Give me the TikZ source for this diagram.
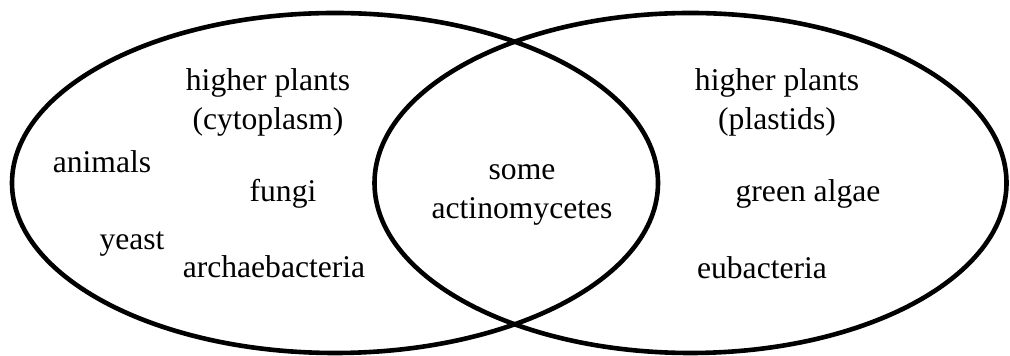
\documentclass[tikz,border=0pt]{standalone}
\usepackage{fontspec}
\setmainfont{Liberation Serif}
\usetikzlibrary{positioning}

\begin{document}
\begin{tikzpicture}[x=0.5pt,y=-0.5pt,
    ring/.style={line width=2.3pt},
    txt/.style={anchor=base,inner sep=0pt,align=center,
      font=\fontsize{15.8}{19.5}\selectfont}]
    \useasboundingbox (0,0) rectangle (1010,356);
    % the two sets
    \draw[ring] (335,183) ellipse [x radius=161.5pt, y radius=85pt];
    \draw[ring] (690.5,183) ellipse [x radius=158pt, y radius=85pt];
    % left set
    \node[txt] (hpc)  at (268,130) {higher plants\\(cytoplasm)};
    \node[txt] (anim) at (102,173) {animals};
    \node[txt] (fung) at (283,202) {fungi};
    \node[txt] (yst)  at (132,250) {yeast};
    \node[txt] (arch) at (274,278) {archaebacteria};
    % overlap
    \node[txt] (act)  at (522,219) {some\\actinomycetes};
    % right set
    \node[txt] (hpp)  at (777,130) {higher plants\\(plastids)};
    \node[txt] (alg)  at (808,202) {green algae};
    \node[txt] (eub)  at (762,279) {eubacteria};
\end{tikzpicture}
\end{document}
